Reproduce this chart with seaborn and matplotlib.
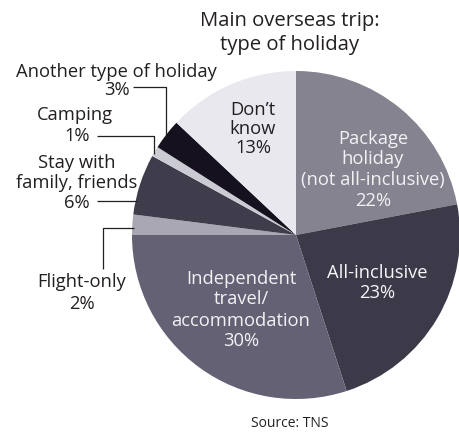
import matplotlib
matplotlib.use("Agg")
import matplotlib.pyplot as plt
import seaborn as sns

sns.set_theme(style="white")
plt.rcParams["font.family"] = ["Open Sans", "DejaVu Sans"]

# Holiday types, clockwise from 12 o'clock
categories = [
    "Package holiday", "All-inclusive", "Independent travel/accommodation",
    "Flight-only", "Stay with family, friends", "Camping",
    "Another type of holiday", "Don't know",
]
shares = [22, 23, 30, 2, 6, 1, 3, 13]
colors = ["#85838f", "#3c3949", "#646175", "#a9a7b3",
          "#3f3c4c", "#cbcbd3", "#15111f", "#e8e8ee"]

W, H = 459, 439
fig = plt.figure(figsize=(W / 100, H / 100), dpi=100)
ax = fig.add_axes([0, 0, 1, 1])

cx, cy, r = 296, H - 236, 164
ax.pie(shares, colors=colors, startangle=90, counterclock=False,
       center=(cx, cy), radius=r, frame=True,
       wedgeprops=dict(linewidth=0))
ax.set_xlim(0, W)
ax.set_ylim(0, H)
ax.set_aspect("equal")
ax.axis("off")

fs = 13.2
dark = "#231f20"

def t(x, y, s, color=dark, size=fs, ha="center", step=19.5):
    # stack lines individually so spacing is fixed in pixels
    lines = s.split("\n")
    n = len(lines)
    for i, line in enumerate(lines):
        yy = y + (i - (n - 1) / 2) * step
        ax.text(x, H - yy, line, ha=ha, va="center", color=color,
                fontsize=size)

# Title
t(290, 21, "Main overseas trip:", size=14.6)
t(290, 45, "type of holiday", size=14.6)

# In-slice labels
t(253, 129, "Don’t\nknow\n13%", step=19)
t(373, 170, "Package\nholiday\n(not all-inclusive)\n22%", color="#f2f2f4",
  step=21)
t(377, 283, "All-inclusive\n23%", color="#f7f7f9", step=20)
t(241, 310, "Independent\ntravel/\naccommodation\n30%", color="#f2f2f4",
  step=21)

# Outside labels
t(116, 72, "Another type of holiday")
t(117, 90, "3%")
t(75, 115, "Camping")
t(77, 136, "1%")
t(77, 183, "Stay with\nfamily, friends\n6%", step=19.5)
t(82, 293, "Flight-only\n2%", step=22)

t(290, 424, "Source: TNS", size=10)

# Leader lines
lw = 0.9
def leader(xs, ys):
    ax.plot(xs, [H - y for y in ys], color=dark, lw=lw, solid_capstyle="butt")

leader([133, 166, 166], [88, 88, 138])
leader([97, 154, 154], [137, 137, 155])
leader([97, 137], [202, 202])
leader([103, 103, 134], [270, 229, 229])

fig.savefig("out.png", dpi=100)
